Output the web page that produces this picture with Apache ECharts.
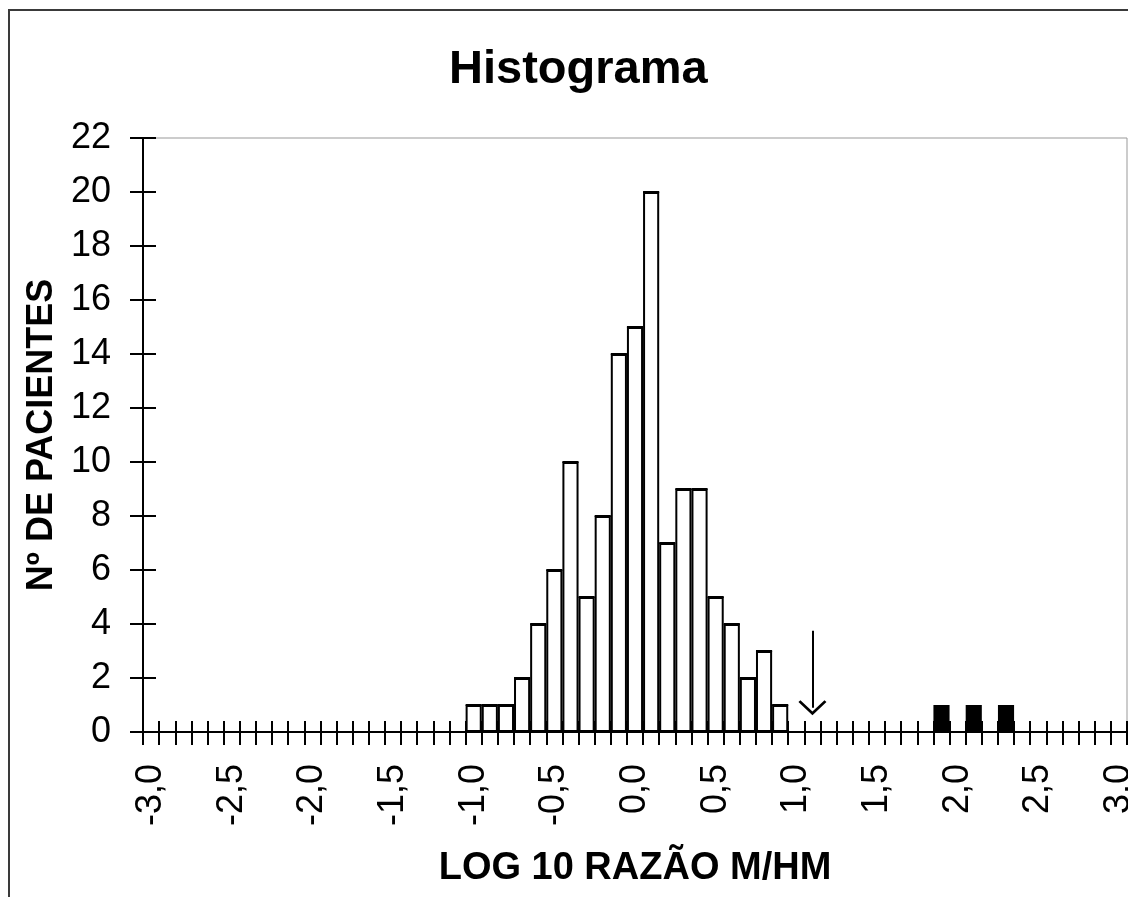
<!DOCTYPE html>
<html>
<head>
<meta charset="utf-8">
<script src="https://cdn.jsdelivr.net/npm/echarts@6/dist/echarts.min.js"></script>
<style>
  html, body { margin: 0; padding: 0; background: #fff; }
  #chart { width: 1128px; height: 897px; }
</style>
</head>
<body>
<div id="chart"></div>
<script>
// classes de log10 (razão M/HM), passo 0,1
const categories = [
  '-3,0','-2,9','-2,8','-2,7','-2,6','-2,5','-2,4','-2,3','-2,2','-2,1',
  '-2,0','-1,9','-1,8','-1,7','-1,6','-1,5','-1,4','-1,3','-1,2','-1,1',
  '-1,0','-0,9','-0,8','-0,7','-0,6','-0,5','-0,4','-0,3','-0,2','-0,1',
  '0,0','0,1','0,2','0,3','0,4','0,5','0,6','0,7','0,8','0,9',
  '1,0','1,1','1,2','1,3','1,4','1,5','1,6','1,7','1,8','1,9',
  '2,0','2,1','2,2','2,3','2,4','2,5','2,6','2,7','2,8','2,9',
  '3,0'
]

// marcas do eixo y (0 a 22, passo 2)
const yTicks = ['0', '2', '4', '6', '8', '10', '12', '14', '16', '18', '20', '22']

// pacientes (barras brancas)
const pacientes = [
  0, 0, 0, 0, 0, 0, 0, 0, 0, 0,
  0, 0, 0, 0, 0, 0, 0, 0, 0, 0,
  1, 1, 1, 2, 4, 6, 10, 5, 8, 14,
  15, 20, 7, 9, 9, 5, 4, 2, 3, 1,
  0, 0, 0, 0, 0, 0, 0, 0, 0, 0,
  0, 0, 0, 0, 0, 0, 0, 0, 0, 0,
  0
]

// casos destacados (barras pretas)
const destacados = [
  0, 0, 0, 0, 0, 0, 0, 0, 0, 0,
  0, 0, 0, 0, 0, 0, 0, 0, 0, 0,
  0, 0, 0, 0, 0, 0, 0, 0, 0, 0,
  0, 0, 0, 0, 0, 0, 0, 0, 0, 0,
  0, 0, 0, 0, 0, 0, 0, 0, 0, 1,
  0, 1, 0, 1, 0, 0, 0, 0, 0, 0,
  0
]

// seta: categoria, topo, ponta
const seta = { cat: '1,1', from: 3.75, to: 0.9 }

const font = "'Liberation Sans', Arial, sans-serif"
const gridBox = { left: 143, top: 138, right: 1, bottom: 165 }
const chart = echarts.init(document.getElementById('chart'))

chart.setOption({
  animation: false,
  backgroundColor: '#fff',
  title: {
    text: 'Histograma',
    left: 444,
    top: 42,
    textStyle: { fontFamily: font, fontSize: 47, fontWeight: 'bold', color: '#000' }
  },
  graphic: [{
    type: 'rect',
    shape: { x: 9, y: 10, width: 1300, height: 1000 },
    style: { fill: null, stroke: '#3a3a3a', lineWidth: 2 },
    silent: true
  }],
  grid: [
    {
      ...gridBox,
      outerBoundsMode: 'none',
      containLabel: false,
      show: true,
      borderColor: '#999',
      borderWidth: 1
    },
    {
      // grid sobreposto só para os ticks internos do eixo y
      ...gridBox,
      outerBoundsMode: 'none',
      containLabel: false
    }
  ],
  xAxis: [
    {
      type: 'category',
      data: categories,
      boundaryGap: true,
      name: 'LOG 10 RAZÃO M/HM',
      nameLocation: 'middle',
      nameGap: 118,
      nameTextStyle: { fontFamily: font, fontSize: 38, fontWeight: 'bold', color: '#000' },
      axisLine: { show: true, lineStyle: { color: '#000', width: 2 } },
      axisTick: { show: true, interval: 0, alignWithLabel: false, length: 13, lineStyle: { color: '#000', width: 2 } },
      axisLabel: {
        interval: 4,
        rotate: 90,
        margin: 32,
        fontFamily: font,
        fontSize: 36,
        color: '#000'
      },
      splitLine: { show: false }
    },
    {
      // ticks para dentro (cruzando o eixo)
      type: 'category',
      data: categories,
      position: 'bottom',
      offset: 0,
      axisLine: { show: false },
      axisTick: { show: true, interval: 0, alignWithLabel: false, inside: true, length: 11, lineStyle: { color: '#000', width: 2 } },
      axisLabel: { show: false, interval: 0 },
      splitLine: { show: false }
    },
    {
      gridIndex: 1,
      type: 'category',
      data: categories,
      show: false
    }
  ],
  yAxis: [
    {
      type: 'value',
      min: 0,
      max: 22,
      interval: 2,
      name: 'Nº DE PACIENTES',
      nameLocation: 'middle',
      nameGap: 76,
      nameTextStyle: { fontFamily: font, fontSize: 36, fontWeight: 'bold', color: '#000' },
      axisLine: { show: true, lineStyle: { color: '#000', width: 2 } },
      axisTick: { show: true, length: 13, lineStyle: { color: '#000', width: 2 } },
      axisLabel: { margin: 32, fontFamily: font, fontSize: 36, color: '#000' },
      splitLine: { show: false }
    },
    {
      // ticks para dentro (cruzando o eixo)
      gridIndex: 1,
      type: 'category',
      data: yTicks,
      boundaryGap: false,
      position: 'left',
      axisLine: { show: false },
      axisTick: { show: true, interval: 0, inside: true, length: 13, lineStyle: { color: '#000', width: 2 } },
      axisLabel: { show: false, interval: 0 },
      splitLine: { show: false }
    }
  ],
  series: [
    {
      name: 'pacientes',
      type: 'bar',
      stack: 'h',
      barCategoryGap: '0%',
      data: pacientes,
      itemStyle: { color: '#fff', borderColor: '#000', borderWidth: 2 },
      markLine: {
        silent: true,
        symbol: ['none', 'path://M0,10 L10,0 L20,10 L18.6,11.4 L10,2.8 L1.4,11.4 Z'],
        symbolSize: [28, 15],
        label: { show: false },
        lineStyle: { color: '#000', width: 2, type: 'solid' },
        data: [[{ coord: [seta.cat, seta.from] }, { coord: [seta.cat, seta.to] }]]
      }
    },
    {
      name: 'destacados',
      type: 'bar',
      stack: 'h',
      barCategoryGap: '0%',
      data: destacados,
      itemStyle: { color: '#000', borderColor: '#000', borderWidth: 2 }
    }
  ]
})
</script>
</body>
</html>
